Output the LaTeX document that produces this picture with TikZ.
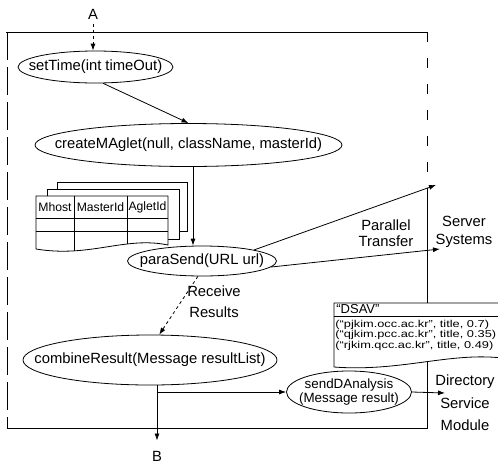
\documentclass[tikz,border=0pt]{standalone}
\usepackage{fontspec}
\setmainfont{Liberation Sans}
\usepackage{graphicx}
\usetikzlibrary{shapes.geometric,arrows.meta,calc}
\begin{document}
\begin{tikzpicture}[x=1pt,y=-1pt,line width=0.8pt,
  tip/.style={-{Latex[length=7pt,width=5pt]}},
  ell/.style={draw,ellipse,inner sep=0pt,fill=white},
  txt/.style={font=\fontsize{14.8}{17}\selectfont,inner sep=0pt},
  elltext/.style={label={[txt,anchor=center,align=center]center:#1}},
  elltextsmall/.style={label={[inner sep=0pt,font=\fontsize{13.4}{14}\selectfont,anchor=center,align=center]center:#1}},
  hdr/.style={font=\fontsize{12.2}{14}\selectfont,inner sep=0pt}]
\useasboundingbox (0,0) rectangle (498,464);

% frame
\draw (6,32) -- (427,32);
\draw[dash pattern=on 28pt off 7pt] (7,32) -- (7,428);
\draw (7,428) -- (427,428) -- (427,190);
\draw[dash pattern=on 10pt off 16pt] (427,32) -- (427,190);

% stacked table
\draw[fill=white] (57,182) rectangle (187,231);
\draw[fill=white] (47,189) rectangle (179,239);
\def\frontpath{(36,196) -- (168,196) -- (168,245) .. controls (125,236) and (90,258) .. (36,249) -- cycle}
\draw[fill=white] \frontpath;
\begin{scope}
  \clip \frontpath;
  \draw (36,218) -- (168,218);
  \draw (36,231) -- (168,231);
  \draw (74,196) -- (74,260);
  \draw (127,196) -- (127,260);
\end{scope}
\node[hdr] (h1) at (55,207) {Mhost};
\node[hdr] (h2) at (100.5,207) {MasterId};
\node[hdr] (h3) at (147.5,207) {AgletId};

% ellipses
\node[ell,minimum width=155pt,minimum height=32pt,elltext={setTime(int timeOut)}] (setTime) at (95.5,67) {};
\node[ell,minimum width=307pt,minimum height=43pt,elltext={createMAglet(null, className, masterId)}] (createMAglet) at (188.5,145) {};
\node[ell,minimum width=149pt,minimum height=30pt,elltext={paraSend(URL url)}] (paraSend) at (202,261) {};
\node[ell,minimum width=254pt,minimum height=50pt,elltext={combineResult(Message resultList)}] (combineResult) at (150,360) {};
\node[ell,minimum width=125pt,minimum height=42pt,elltextsmall={sendDAnalysis\\(Message result)}] (sendDAnalysis) at (349,392) {};

% DSAV box
\draw[fill=white] (334,303) -- (502,303) -- (502,358) .. controls (450,352) and (400,372) .. (334,367) -- cycle;
\draw (334,316) -- (502,316);
\node[anchor=west,inner sep=0pt,font=\fontsize{13}{14}\selectfont] (dsav) at (336,309) {“DSAV”};
\node[anchor=north west,inner sep=0pt,align=left,font=\fontsize{10}{8}\selectfont] (tuples) at (335,320)
  {\scalebox{1.28}[1]{(“pjkim.occ.ac.kr”, title, 0.7)}\\
   \scalebox{1.28}[1]{(“qjkim.pcc.ac.kr”, title, 0.35)}\\
   \scalebox{1.28}[1]{(“rjkim.qcc.ac.kr”, title, 0.49)}};

% text labels
\node[txt,inner ysep=4.7pt] (A) at (93,14) {A};
\node[txt,inner ysep=10pt] (B) at (157,456) {B};
\node[txt,align=center,font=\fontsize{14.8}{21}\selectfont] (recv) at (214,302) {Receive\\Results};
\node[txt,align=center,font=\fontsize{14.8}{16}\selectfont] (par) at (386,233) {Parallel\\Transfer};
\node[txt,align=center,font=\fontsize{14.8}{18}\selectfont] (srv) at (464,232) {Server\\Systems};
\node[txt,align=center,font=\fontsize{14.8}{22.5}\selectfont] (dsm) at (465,403) {Directory\\Service\\Module};
\coordinate (srv1) at (436,185);
\coordinate (srv2) at (440,249);
\coordinate (dsmin) at (445,393);

% connectors
\draw[tip,dashed] (A) -- (A |- setTime.north);
\draw[tip] (setTime.-65) -- (createMAglet.north);
\draw[tip] ($(createMAglet.south)+(4.5,0)$) -- ($(paraSend.north)+(-9,0)$);
\draw[tip] (paraSend.12) -- (srv1);
\draw[tip] (paraSend.-5) -- (srv2);
\draw[tip,dashed] (paraSend.-105) -- (combineResult.70);
\draw[tip] (B |- combineResult.south) -- (B);
\draw[tip] (B |- sendDAnalysis.west) -- (sendDAnalysis.west);
\draw[tip] (sendDAnalysis.east) -- (dsmin);
\end{tikzpicture}
\end{document}
